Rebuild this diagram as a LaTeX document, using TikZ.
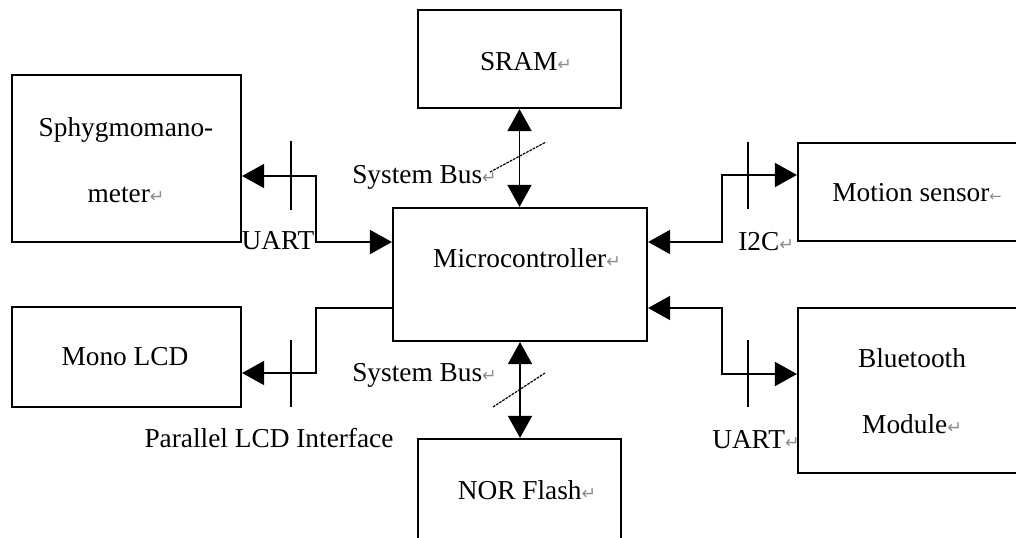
\documentclass[tikz,border=0pt]{standalone}
\usepackage{fontspec}
\setmainfont{Liberation Serif}
\newfontfamily\symfont{DejaVu Sans}
\usetikzlibrary{arrows.meta}
\newcommand{\retmark}{{\symfont\color{black!45}\fontsize{13}{13}\selectfont ↵}}
\newcommand{\larrmark}{{\symfont\color{black!45}\fontsize{11}{11}\selectfont ←}}
\tikzset{
  blk/.style={draw, line width=1.6pt, rectangle, inner sep=0pt},
  txt/.style={font=\fontsize{20.5}{49.5}\selectfont, inner sep=0pt, align=center},
  bus/.style={line width=1.2pt},
  tick/.style={line width=0.9pt},
  slash/.style={line width=0.9pt, dash pattern=on 2pt off 0.8pt},
}
\begin{document}
\begin{tikzpicture}[x=0.75pt, y=-0.75pt, >={Triangle[length=16.5pt,width=18pt]}]
  \useasboundingbox (0,0) rectangle (1016,538);
  \clip (0,0) rectangle (1016,538);
  % blocks
  \node[blk, minimum width=171.75pt, minimum height=125.25pt] (sph) at (126.5,158.5) {};
  \node[blk, minimum width=171.75pt, minimum height=75pt] (lcd) at (126.5,357) {};
  \node[blk, minimum width=152.25pt, minimum height=73.5pt] (sram) at (519.5,59) {};
  \node[blk, minimum width=190.5pt, minimum height=99.75pt] (mcu) at (520,274.5) {};
  \node[blk, minimum width=152.25pt, minimum height=90.75pt] (nor) at (519.5,499.5) {};
  \node[blk, minimum width=174pt, minimum height=73.5pt] (mot) at (914,192) {};
  \node[blk, minimum width=174pt, minimum height=123.75pt] (bt) at (914,390.5) {};
  % block texts
  \node[txt] (sph-t) at (126,160) {Sphygmomano-\\meter\retmark};
  \node[txt] (lcd-t) at (125,357) {Mono LCD};
  \node[txt] (sram-t) at (526,62) {SRAM\retmark};
  \node[txt] (mcu-t) at (527,258) {Microcontroller\retmark};
  \node[txt] (nor-t) at (527,490) {NOR Flash\retmark};
  \node[txt] (mot-t) at (917,193) {Motion sensor\larrmark};
  \node[txt] (bt-t) at (912,391) {Bluetooth\\Module\retmark};
  % bus labels
  \node[txt] (uart1) at (278,241) {UART};
  \node[txt] (lcdif) at (269,438) {Parallel LCD Interface};
  \node[txt, anchor=west] (bus1) at (352,177) {System Bus\retmark};
  \node[txt, anchor=west] (bus2) at (352,375) {System Bus\retmark};
  \node[txt, anchor=west] (i2c) at (738,242) {I2C\retmark};
  \node[txt, anchor=west] (uart2) at (712,440) {UART\retmark};
  % bends
  \coordinate (j1) at (316,176);
  \coordinate (j2) at (316,242);
  \coordinate (j3) at (316,308);
  \coordinate (j4) at (316,373);
  \coordinate (j5) at (722,242);
  \coordinate (j6) at (722,175);
  \coordinate (j7) at (722,308);
  \coordinate (j8) at (722,374);
  % connectors
  \draw[bus,<->] (sph.east |- j1) -- (j1) -- (j2) -- (mcu.west |- j2);
  \draw[bus,->] (mcu.west |- j3) -- (j3) -- (j4) -- (lcd.east |- j4);
  \draw[bus,<->] (sram.south) -- (sram.south |- mcu.north);
  \draw[bus,<->] (mcu.south) -- (mcu.south |- nor.north);
  \draw[bus,<->] (mcu.east |- j5) -- (j5) -- (j6) -- (mot.west |- j6);
  \draw[bus,<->] (mcu.east |- j7) -- (j7) -- (j8) -- (bt.west |- j8);
  % width marks
  \draw[tick] (291,141) -- (291,210);
  \draw[tick] (291,340) -- (291,407);
  \draw[tick] (748,142) -- (748,209);
  \draw[tick] (748,340) -- (748,407);
  \draw[slash] (490,172) -- (546,142);
  \draw[slash] (493,407) -- (545,373);
\end{tikzpicture}
\end{document}
